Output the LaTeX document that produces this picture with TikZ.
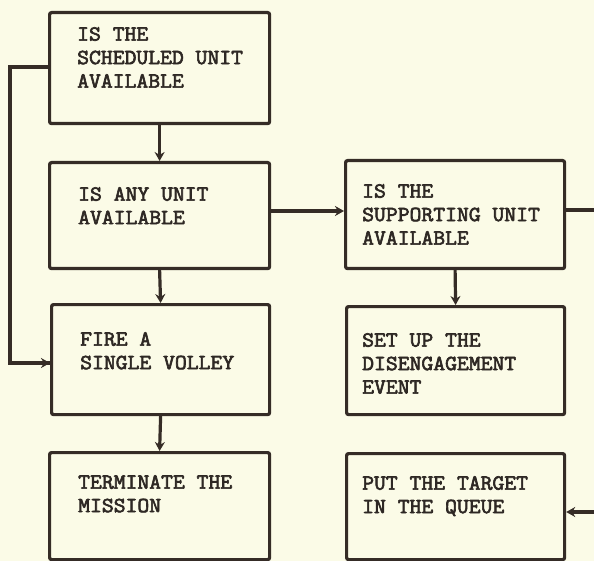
\documentclass[tikz,border=0pt]{standalone}
\usepackage{fontspec}
\newfontfamily\typewriter{Latin Modern Mono}[FakeBold=3,FakeStretch=1.07]
\usetikzlibrary{arrows.meta,calc}
\definecolor{paper}{HTML}{FBFBE7}
\definecolor{ink}{HTML}{352C26}
\definecolor{txt}{HTML}{2E2824}
\begin{document}
\begin{tikzpicture}[x=1pt,y=-1pt,
  box/.style={draw=ink, line width=3.2pt, rounded corners=2pt, rectangle, anchor=north west, inner sep=0pt},
  lbl/.style={anchor=north west, inner sep=0pt, align=left, text=txt,
    font=\typewriter\fontsize{21.5}{23.5}\selectfont},
  conn/.style={draw=ink, line width=3.2pt},
  arr/.style={conn, -{Stealth[length=9pt,width=10pt]}}]
\fill[paper] (0,0) rectangle (594,561);
\useasboundingbox (0,0) rectangle (594,561);
% boxes
\node[box, minimum width=220pt, minimum height=111pt] (b1) at (48,11) {};
\node[box, minimum width=220pt, minimum height=106pt] (b2) at (48,161) {};
\node[box, minimum width=218pt, minimum height=110pt] (b3) at (50,303) {};
\node[box, minimum width=220pt, minimum height=107pt] (b4) at (48,451) {};
\node[box, minimum width=219pt, minimum height=108pt] (b5) at (344,159) {};
\node[box, minimum width=218pt, minimum height=108pt] (b6) at (345,305) {};
\node[box, minimum width=218pt, minimum height=106pt] (b7) at (345,452) {};
% texts
\node[lbl] (t1) at (77,27) {IS THE\\SCHEDULED UNIT\\AVAILABLE};
\node[lbl] (t2) at (78,187) {IS ANY UNIT\\AVAILABLE};
\node[lbl] (t3) at (80,332) {FIRE A\\SINGLE VOLLEY};
\node[lbl] (t4) at (78,475) {TERMINATE THE\\MISSION};
\node[lbl] (t5) at (362,184) {IS THE\\SUPPORTING UNIT\\AVAILABLE};
\node[lbl] (t6) at (362,333) {SET UP THE\\DISENGAGEMENT\\EVENT};
\node[lbl] (t7) at (362,476) {PUT THE TARGET\\IN THE QUEUE};
% free ends at the right edge
\coordinate (r1) at (594,210);
\coordinate (r2) at (594,512);
\coordinate (lb) at (50,363);
% connectors
\draw[arr] (b1.south) -- (b2.north);
\draw[arr] (b2.south) -- (b3.north);
\draw[arr] (b3.south) -- (b4.north);
\draw[arr] (b5.south) -- (b6.north);
\draw[arr] (b2.east |- 0,211) -- (b5.west |- 0,211);
\draw[conn] (b1.west |- 0,67) -- (10,67) |- (lb);
\draw[arr] (20,363) -- (lb);
\draw[conn] (b5.east |- r1) -- (r1);
\draw[arr] (r2) -- (r2 -| b7.east);
\end{tikzpicture}
\end{document}
